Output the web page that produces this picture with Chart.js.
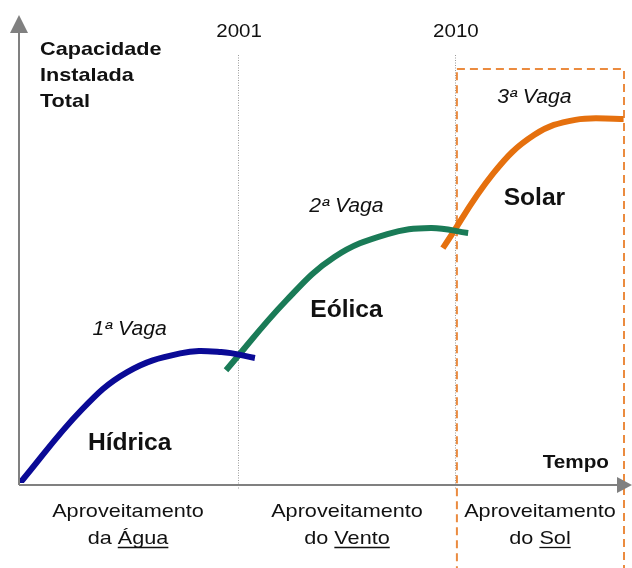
<!DOCTYPE html>
<html lang="pt">
<head>
<meta charset="utf-8">
<title>Capacidade Instalada Total</title>
<script src="https://cdn.jsdelivr.net/npm/chart.js@4"></script>
<style>
  body { margin: 0; background: #fff; }
  canvas { display: block; }
</style>
</head>
<body>
<canvas id="grafico" width="632" height="568"></canvas>
<script>
  /* ===============================
     DADOS (ano, capacidade relativa 0-100)
  =============================== */
  const hidricaAnos = [1991.95, 1994.5, 1996.4, 1998.6, 2000.3, 2001.7];
  const hidricaCap  = [0, 15.6, 23.7, 27.7, 28.0, 26.7];

  const eolicaAnos = [2000.5, 2003.0, 2005.0, 2007.2, 2009.0, 2010.55];
  const eolicaCap  = [24.1, 39.0, 48.3, 53.2, 54.5, 53.4];

  const solarAnos = [2009.5, 2011.6, 2013.3, 2015.0, 2017.0];
  const solarCap  = [50.2, 66.2, 74.4, 77.6, 77.8];

  const marcos = [2001, 2010];
  const vagas = ["1ª Vaga", "2ª Vaga", "3ª Vaga"];
  const fontes = ["Hídrica", "Eólica", "Solar"];
  const aproveitamento = [
    ["Aproveitamento", "da ", "Água"],
    ["Aproveitamento", "do ", "Vento"],
    ["Aproveitamento", "do ", "Sol"]
  ];
  const tituloY = ["Capacidade", "Instalada", "Total"];
  const tituloX = "Tempo";

  const pontos = (xs, ys) => xs.map((x, i) => ({ x, y: ys[i] }));

  /* ===============================
     TEXTO (esticado na horizontal como no original)
  =============================== */
  function texto(ctx, t, x, y, font, stretch, align) {
    ctx.save();
    ctx.font = font;
    ctx.fillStyle = "#111";
    ctx.textBaseline = "alphabetic";
    const w = ctx.measureText(t).width * stretch;
    let x0 = x;
    if (align === "center") x0 = x - w / 2;
    if (align === "right") x0 = x - w;
    ctx.translate(x0, y);
    ctx.scale(stretch, 1);
    ctx.fillText(t, 0, 0);
    ctx.restore();
    return { x0, w };
  }

  const fundo = {
    id: "fundo",
    beforeDatasetsDraw(chart) {
      const { ctx, chartArea: a, scales: { x, y } } = chart;
      const ox = a.left, oy = y.getPixelForValue(0);

      // linhas pontilhadas dos marcos
      ctx.save();
      ctx.strokeStyle = "#9a9a9a";
      ctx.lineWidth = 1;
      ctx.setLineDash([1, 1.5]);
      marcos.forEach(m => {
        const px = Math.round(x.getPixelForValue(m)) + 0.5;
        ctx.beginPath();
        ctx.moveTo(px, 55);
        ctx.lineTo(px, oy + 6);
        ctx.stroke();
      });
      ctx.restore();

      // caixa tracejada laranja (3ª vaga)
      ctx.save();
      ctx.strokeStyle = "#EB8B3F";
      ctx.lineWidth = 2;
      ctx.setLineDash([8, 5]);
      const rx = x.getPixelForValue(marcos[1]) + 2;
      ctx.strokeRect(rx, 69, 624 - rx, 560);
      ctx.restore();

      // eixos com setas
      ctx.save();
      ctx.strokeStyle = "#808080";
      ctx.fillStyle = "#808080";
      ctx.lineWidth = 2;
      ctx.beginPath();
      ctx.moveTo(ox - 1, oy + 2);
      ctx.lineTo(ox - 1, 32);
      ctx.moveTo(ox - 1, oy + 2);
      ctx.lineTo(618, oy + 2);
      ctx.stroke();
      ctx.beginPath();
      ctx.moveTo(ox - 10, 33);
      ctx.lineTo(ox + 8, 33);
      ctx.lineTo(ox - 1, 15);
      ctx.closePath();
      ctx.fill();
      ctx.beginPath();
      ctx.moveTo(617, oy - 6);
      ctx.lineTo(617, oy + 10);
      ctx.lineTo(632, oy + 2);
      ctx.closePath();
      ctx.fill();
      ctx.restore();
    },
    afterDatasetsDraw(chart) {
      const { ctx, scales: { x } } = chart;
      const bold = "bold 19px Arial, 'Liberation Sans', sans-serif";
      const big = "bold 23px Arial, 'Liberation Sans', sans-serif";
      const ital = "italic 20px Arial, 'Liberation Sans', sans-serif";
      const reg = "19px Arial, 'Liberation Sans', sans-serif";

      // título do eixo y
      [55, 81, 107].forEach((b, i) => texto(ctx, tituloY[i], 40, b, bold, 1.14, "left"));

      // anos
      marcos.forEach(m => texto(ctx, String(m), x.getPixelForValue(m) + 1, 37, reg, 1.08, "center"));

      // vagas e fontes
      const cx = [1996.5, 2005.5, 2013.3].map(v => x.getPixelForValue(v));
      const bVaga = [335, 212, 103];
      const bFonte = [450, 317, 205];
      cx.forEach((c, i) => {
        texto(ctx, vagas[i], c, bVaga[i], ital, 1.06, "center");
        texto(ctx, fontes[i], c, bFonte[i], big, 1.07, "center");
      });

      texto(ctx, tituloX, 609, 468, bold, 1.09, "right");

      // legendas inferiores
      const bx = [128, 347, 540];
      aproveitamento.forEach((l, i) => {
        texto(ctx, l[0], bx[i], 517, reg, 1.14, "center");
        ctx.save();
        ctx.font = reg;
        const w1 = ctx.measureText(l[1]).width * 1.14;
        const w2 = ctx.measureText(l[2]).width * 1.14;
        ctx.restore();
        const start = bx[i] - (w1 + w2) / 2;
        texto(ctx, l[1], start, 544, reg, 1.14, "left");
        texto(ctx, l[2], start + w1, 544, reg, 1.14, "left");
        ctx.save();
        ctx.strokeStyle = "#111";
        ctx.lineWidth = 1.3;
        ctx.beginPath();
        ctx.moveTo(start + w1, 547.5);
        ctx.lineTo(start + w1 + w2, 547.5);
        ctx.stroke();
        ctx.restore();
      });
    }
  };

  /* ===============================
     GRÁFICO
  =============================== */
  const estilo = cor => ({
    borderColor: cor,
    borderWidth: 6,
    pointRadius: 0,
    fill: false,
    tension: 0.4,
    borderCapStyle: "butt"
  });

  new Chart(document.getElementById("grafico").getContext("2d"), {
    type: "line",
    data: {
      datasets: [
        { label: fontes[0], data: pontos(hidricaAnos, hidricaCap), ...estilo("#0A0A96") },
        { label: fontes[1], data: pontos(eolicaAnos, eolicaCap), ...estilo("#1A7B57") },
        { label: fontes[2], data: pontos(solarAnos, solarCap), ...estilo("#E5700E") }
      ]
    },
    options: {
      responsive: false,
      animation: false,
      devicePixelRatio: 1,
      layout: { padding: { left: 20, right: 0, top: 15, bottom: 85 } },
      plugins: { legend: { display: false }, tooltip: { enabled: false } },
      scales: {
        x: { type: "linear", min: 1991.95, max: 2017.35, display: false },
        y: { min: 0, max: 100, display: false }
      }
    },
    plugins: [fundo]
  });
</script>
</body>
</html>
